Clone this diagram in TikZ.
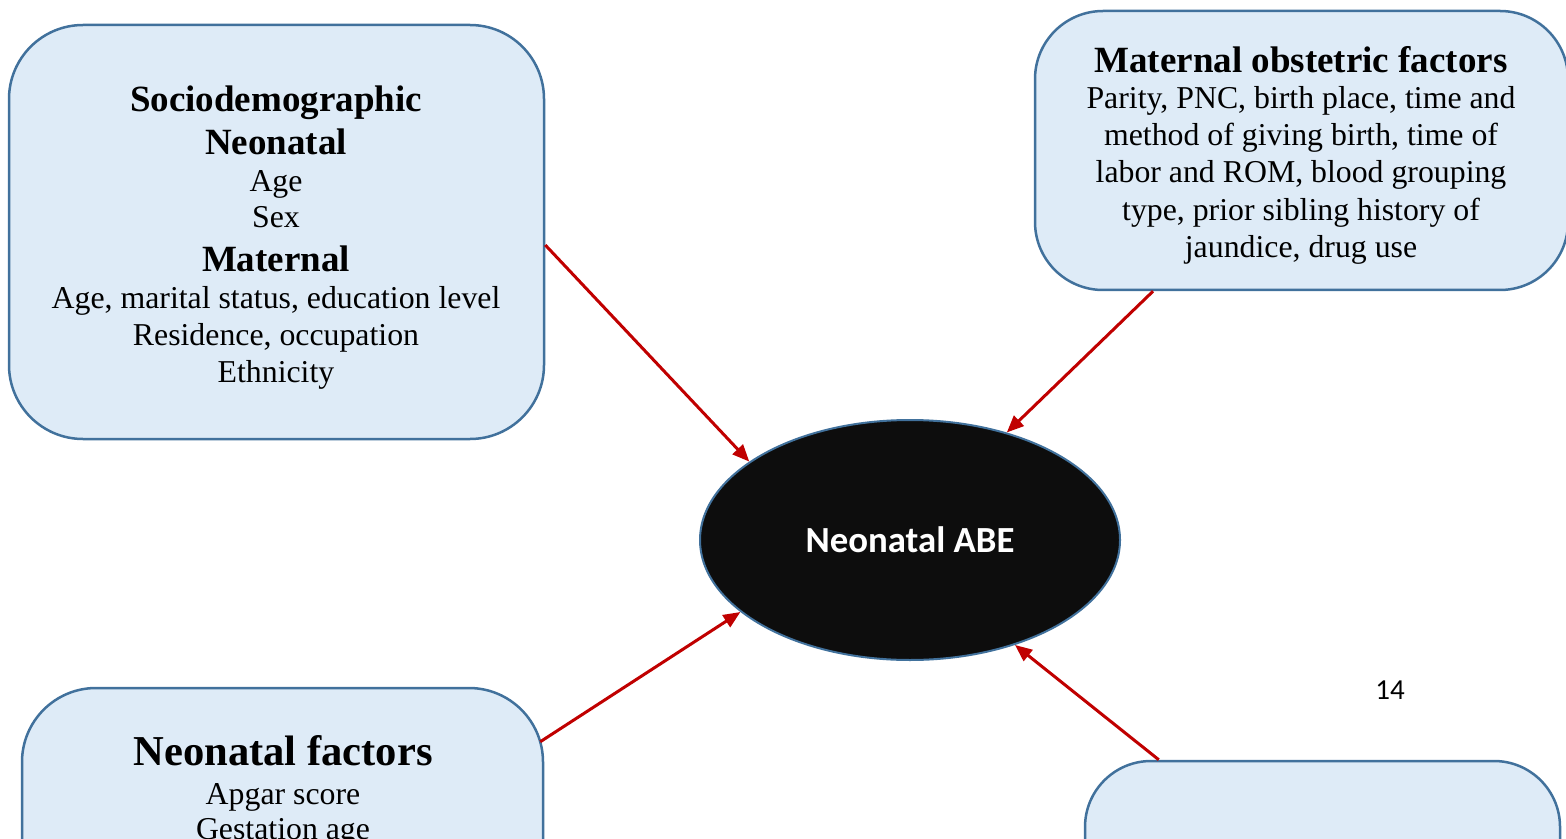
\documentclass[tikz,border=0pt]{standalone}
\usepackage{fontspec}
\setmainfont{Liberation Serif}
\newfontfamily\calibri{Carlito}
\usetikzlibrary{arrows.meta,shapes.geometric}
\definecolor{boxfill}{HTML}{DEEBF7}
\definecolor{boxline}{HTML}{41719C}
\definecolor{ovalfill}{HTML}{0D0D0D}
\definecolor{arrowred}{HTML}{C00000}
\begin{document}
\begin{tikzpicture}[x=0.5pt,y=-0.5pt,
  factorbox/.style={draw=boxline,fill=boxfill,line width=1.25pt,rectangle,inner sep=0pt},
  headtxt/.style={anchor=base,inner sep=0pt,font=\fontsize{18.5}{22}\selectfont\bfseries},
  bigheadtxt/.style={anchor=base,inner sep=0pt,font=\fontsize{21.3}{25}\selectfont\bfseries},
  bodytxt/.style={anchor=base,inner sep=0pt,font=\fontsize{15.9}{18.5}\selectfont},
  influence/.style={draw=arrowred,line width=1.5pt,-{Triangle[length=8.5pt,width=7pt]}}]
\useasboundingbox (0,0) rectangle (1566,839);

% boxes
\node[factorbox,rounded corners=37pt,minimum width=267.5pt,minimum height=207pt] (socio) at (276.5,232) {};
\node[factorbox,rounded corners=34pt,minimum width=266.5pt,minimum height=139.5pt] (obst) at (1301.5,150.5) {};
\node[factorbox,rounded corners=37pt,minimum width=260.5pt,minimum height=206pt] (neo) at (282.5,894) {};
\node[factorbox,rounded corners=33pt,minimum width=237.5pt,minimum height=169.5pt] (other) at (1322.5,930.5) {};

% central ellipse
\node[ellipse,draw=boxline,fill=ovalfill,line width=1pt,inner sep=0pt,
      minimum width=210pt,minimum height=120pt,text=white,
      font=\calibri\bfseries\fontsize{18.4}{22}\selectfont] (abe) at (910,540) {Neonatal ABE};

% texts of the sociodemographic box
\node[headtxt] (s1) at (276,112) {Sociodemographic};
\node[headtxt] (s2) at (276,155) {Neonatal};
\node[bodytxt] (s3) at (276,192) {Age};
\node[bodytxt] (s4) at (276,228) {Sex};
\node[headtxt] (s5) at (276,271) {Maternal};
\node[bodytxt] (s6) at (276,308) {Age, marital status, education level};
\node[bodytxt] (s7) at (276,345) {Residence, occupation};
\node[bodytxt] (s8) at (276,382) {Ethnicity};

% texts of the maternal obstetric box
\node[headtxt] (m1) at (1301,73) {Maternal obstetric factors};
\node[bodytxt] (m2) at (1301,109) {Parity, PNC, birth place, time and};
\node[bodytxt] (m3) at (1301,146) {method of giving birth, time of};
\node[bodytxt] (m4) at (1301,183) {labor and ROM, blood grouping};
\node[bodytxt] (m5) at (1301,221) {type, prior sibling history of};
\node[bodytxt] (m6) at (1301,258) {jaundice, drug use};

% texts of the neonatal box
\node[bigheadtxt] (n1) at (283,765) {Neonatal factors};
\node[bodytxt] (n2) at (283,804) {Apgar score};
\node[bodytxt] (n3) at (283,839) {Gestation age};

% page number
\node[anchor=base,inner sep=0pt,font=\calibri\fontsize{14.5}{17}\selectfont] (pg) at (1390,699) {14};

% arrows
\draw[influence] ([yshift=-6.5pt]socio.east) -- (abe.154);
\draw[influence] ([xshift=-74.25pt]obst.south) -- (abe.48);
\draw[influence] ([xshift=-2pt,yshift=-27.5pt]neo.north east) -- (abe.203);
\draw[influence] ([xshift=37.5pt]other.north west) -- (abe.315.5);
\end{tikzpicture}
\end{document}
